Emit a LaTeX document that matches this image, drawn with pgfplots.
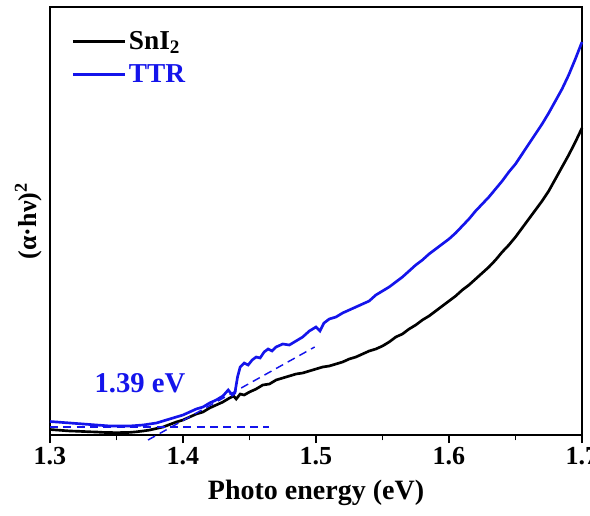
\documentclass[border=0pt]{standalone}
\usepackage{fontspec}
\setmainfont{Liberation Serif}
\usepackage{pgfplots}
\pgfplotsset{compat=1.18}
\definecolor{ttrblue}{RGB}{20,20,235}

\begin{document}
\begin{tikzpicture}
\begin{axis}[
  scale only axis,
  width=399pt, height=321pt,
  xmin=1.3, xmax=1.7,
  ymin=0, ymax=428,
  clip=false,
  axis line style={line width=1pt},
  xtick={1.3,1.4,1.5,1.6,1.7},
  minor x tick num=1,
  xtick pos=bottom,
  tick align=outside,
  major tick length=6pt,
  minor tick length=4pt,
  tick style={line width=1pt, black},
  ytick=\empty,
  xticklabel style={/pgf/number format/fixed, /pgf/number format/precision=1, /pgf/number format/fixed zerofill},
  /pgf/number format/assume math mode=true,
  ticklabel style={font=\fontsize{19.5}{23}\selectfont\bfseries},
  xlabel={Photo energy (eV)},
  xlabel style={font=\fontsize{21}{25}\selectfont\bfseries, yshift=-4pt},
  ylabel={(α·hν)\textsuperscript{2}},
  ylabel style={font=\fontsize{19.5}{23}\selectfont\bfseries, at={(axis description cs:-0.04,0.5)}, anchor=center},
  legend style={draw=none, fill=none, at={(axis description cs:0.04,0.95)}, anchor=north west,
    font=\fontsize{20.5}{24}\selectfont\bfseries, row sep=6pt, inner sep=0pt},
  legend cell align=left,
  legend image code/.code={\draw[#1] (0pt,0pt) -- (39pt,0pt);},
]

% SnI2
\addplot[black, line width=2pt] coordinates {
(1.300,5.5)(1.305,5)(1.310,4.5)(1.315,4)(1.320,3.8)(1.325,3.5)(1.330,3.2)(1.335,3)(1.340,2.6)(1.345,2.5)
(1.350,2.3)(1.355,2.5)(1.360,2.6)(1.365,3.2)(1.370,4)(1.375,5)(1.380,6.5)(1.385,8)(1.390,10.5)(1.395,13)
(1.400,15)(1.405,18)(1.410,21)(1.415,23)(1.420,27)(1.425,30)(1.430,33)(1.435,37)(1.438,39)(1.440,36)
(1.443,41)(1.446,40)(1.450,43)(1.455,46)(1.460,50)(1.465,51)(1.470,55)(1.475,57)(1.480,59)(1.485,61)
(1.490,62)(1.495,64)(1.500,66)(1.505,68)(1.510,69)(1.515,71)(1.520,73)(1.525,76)(1.530,78)(1.535,81)
(1.540,84)(1.545,86)(1.550,89)(1.555,93)(1.560,98)(1.565,101)(1.570,106)(1.575,110)(1.580,115)(1.585,119)
(1.590,124)(1.595,129)(1.600,134)(1.605,139)(1.610,145)(1.615,150)(1.620,156)(1.625,162)(1.630,168)(1.635,175)
(1.640,183)(1.645,190)(1.650,198)(1.655,207)(1.660,216)(1.665,225)(1.670,234)(1.675,244)(1.680,256)(1.685,268)
(1.690,280)(1.695,293)(1.700,307)};
\addlegendentry{SnI\textsubscript{2}}

% TTR
\addplot[ttrblue, line width=2pt] coordinates {
(1.300,13.5)(1.305,13)(1.310,12.5)(1.315,12)(1.320,11.5)(1.325,11)(1.330,10.5)(1.335,10)(1.340,9.5)(1.345,9)
(1.350,9)(1.355,9)(1.360,9)(1.365,9.5)(1.370,10)(1.375,11)(1.380,12)(1.385,14)(1.390,16)(1.395,18)
(1.400,20)(1.405,23)(1.410,26)(1.415,28)(1.420,32)(1.425,35)(1.430,39)(1.434,45)(1.437,40)(1.439,42)
(1.441,58)(1.443,68)(1.446,72)(1.449,70)(1.452,75)(1.455,78)(1.458,77)(1.461,83)(1.464,86)(1.467,84)
(1.470,88)(1.475,91)(1.480,90)(1.485,94)(1.490,98)(1.495,104)(1.500,108)(1.503,104)(1.506,112)(1.510,116)
(1.515,118)(1.520,122)(1.525,125)(1.530,128)(1.535,131)(1.540,134)(1.545,140)(1.550,144)(1.555,148)(1.560,153)
(1.565,158)(1.570,164)(1.575,170)(1.580,175)(1.585,181)(1.590,186)(1.595,191)(1.600,196)(1.605,202)(1.610,209)
(1.615,216)(1.620,224)(1.625,231)(1.630,238)(1.635,246)(1.640,254)(1.645,263)(1.650,271)(1.655,281)(1.660,291)
(1.665,301)(1.670,311)(1.675,322)(1.680,334)(1.685,346)(1.690,360)(1.695,376)(1.700,393)};
\addlegendentry{\textcolor{ttrblue}{TTR}}

% tangent lines
\addplot[ttrblue, line width=1.1pt, dash pattern=on 6pt off 4pt, forget plot] coordinates {(1.300,8)(1.465,8)};
\addplot[ttrblue, line width=1.1pt, dash pattern=on 6pt off 4pt, forget plot] coordinates {(1.3737,-5)(1.499,88)};

\node[text=ttrblue, font=\fontsize{21.5}{25}\selectfont\bfseries] at (axis cs:1.3677,52) {1.39 eV};

\end{axis}
\pgfresetboundingbox
\path[use as bounding box] ([xshift=-37.5pt,yshift=-60pt]current axis.south west) rectangle ([xshift=6pt,yshift=5.25pt]current axis.north east);
\end{tikzpicture}
\end{document}
